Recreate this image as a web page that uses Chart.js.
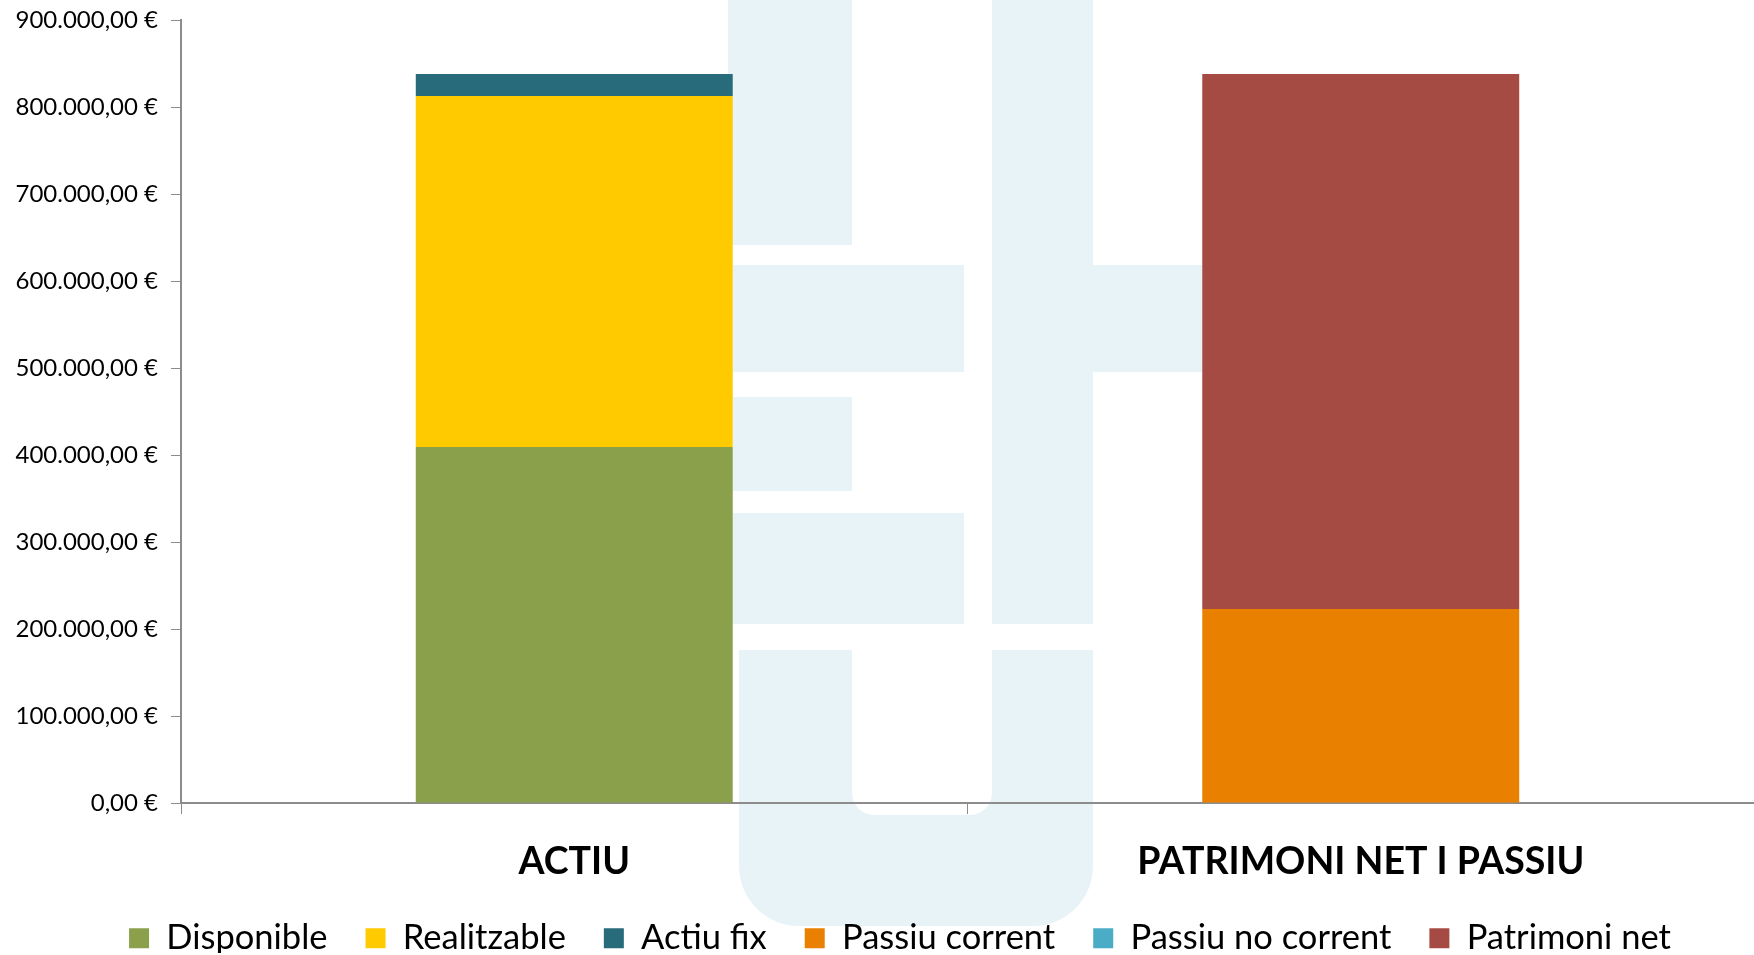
<!DOCTYPE html>
<html>
<head>
<meta charset="utf-8">
<script src="https://cdn.jsdelivr.net/npm/chart.js@4"></script>
<style>
  body { margin: 0; background: #fff; }
  #wrap { position: relative; width: 1754px; height: 955px; overflow: hidden; }
  .wm { position: absolute; background: #e8f3f8; }
  canvas { position: absolute; left: 0; top: 0; }
</style>
</head>
<body>
<div id="wrap">
  <!-- logo de fons (filigrana) -->
  <div class="wm" style="left:728px;top:0;width:124px;height:245px"></div>
  <div class="wm" style="left:992px;top:0;width:101px;height:624px"></div>
  <div class="wm" style="left:733px;top:265px;width:231px;height:107px"></div>
  <div class="wm" style="left:1093px;top:265px;width:112px;height:107px"></div>
  <div class="wm" style="left:733px;top:397px;width:119px;height:94px"></div>
  <div class="wm" style="left:733px;top:513px;width:231px;height:111px"></div>
  <div class="wm" style="left:739px;top:650px;width:354px;height:276px;border-radius:0 0 60px 60px"></div>
  <div class="wm" style="left:852px;top:640px;width:140px;height:175px;background:#fff;border-radius:0 0 22px 22px"></div>
  <canvas id="balanceChart" width="1754" height="955"></canvas>
</div>
<script>
// Dades del balanç
const categories = ['ACTIU', 'PATRIMONI NET I PASSIU'];
const seriesNames = ['Disponible', 'Realitzable', 'Actiu fix', 'Passiu corrent', 'Passiu no corrent', 'Patrimoni net'];
const disponible = [409200, 0];
const realitzable = [403400, 0];
const actiuFix = [25300, 0];
const passiuCorrent = [0, 223000];
const passiuNoCorrent = [0, 0];
const patrimoniNet = [0, 614900];
const seriesColors = ['#8ba04b', '#ffca00', '#286c7b', '#e98000', '#4bacc6', '#a64b43'];
const yTickValues = [0, 100000, 200000, 300000, 400000, 500000, 600000, 700000, 800000, 900000];

const FONT = 'Lato, "Open Sans", sans-serif';

// Format 900.000,00 €
function euro(v) {
  const parts = Math.round(v).toString().replace(/\B(?=(\d{3})+(?!\d))/g, '.');
  return parts + ',00 €';
}

// Llegenda: alçada fixa i petit desplaçament, com a l'original
const legendTweak = {
  id: 'legendTweak',
  beforeInit: function(chart) {
    const legend = chart.legend;
    if (!legend) return;
    const origFit = legend.fit;
    legend.fit = function() {
      origFit.call(this);
      this.height = 70;
    };
  },
  afterLayout: function(chart) {
    const legend = chart.legend;
    if (!legend) return;
    legend.left += 23;
    legend.right += 23;
    legend.top -= 2;
    legend.bottom -= 2;
  }
};

document.addEventListener('DOMContentLoaded', function() {
  const ctx = document.getElementById('balanceChart').getContext('2d');
  const seriesValues = [disponible, realitzable, actiuFix, passiuCorrent, passiuNoCorrent, patrimoniNet];

  const datasets = seriesNames.map(function(name, i) {
    return {
      label: name,
      data: seriesValues[i],
      backgroundColor: seriesColors[i],
      borderWidth: 0,
      barPercentage: 0.403,
      categoryPercentage: 1.0
    };
  });

  new Chart(ctx, {
    type: 'bar',
    data: { labels: categories, datasets: datasets },
    options: {
      responsive: false,
      animation: false,
      layout: { padding: { top: 20, left: 0, right: 0, bottom: 0 } },
      plugins: {
        tooltip: { enabled: false },
        legend: {
          position: 'bottom',
          labels: {
            color: '#000',
            font: { family: FONT, size: 34.5 },
            boxWidth: 20,
            boxHeight: 20,
            padding: 38
          }
        }
      },
      scales: {
        x: {
          stacked: true,
          grid: { drawOnChartArea: false, color: '#8c8c8c', tickLength: 11, offset: true },
          border: { color: '#8c8c8c', width: 2 },
          ticks: {
            color: '#000',
            padding: 25,
            font: { family: FONT, size: 37.5, weight: 'bold' }
          },
          afterFit: function(scale) { scale.height = 82; }
        },
        y: {
          stacked: true,
          min: 0,
          max: 900000,
          afterBuildTicks: function(scale) {
            scale.ticks = yTickValues.map(function(v) { return { value: v }; });
          },
          grid: { drawOnChartArea: false, color: '#8c8c8c', tickLength: 10 },
          border: { color: '#8c8c8c', width: 2 },
          ticks: {
            color: '#000',
            padding: 13,
            font: { family: FONT, size: 24 },
            callback: function(v) { return euro(v); }
          },
          afterFit: function(scale) {
            scale.width = 181;
            scale.paddingTop = 0;
            scale.paddingBottom = 0;
          }
        }
      }
    },
    plugins: [legendTweak]
  });
});
</script>
</body>
</html>
